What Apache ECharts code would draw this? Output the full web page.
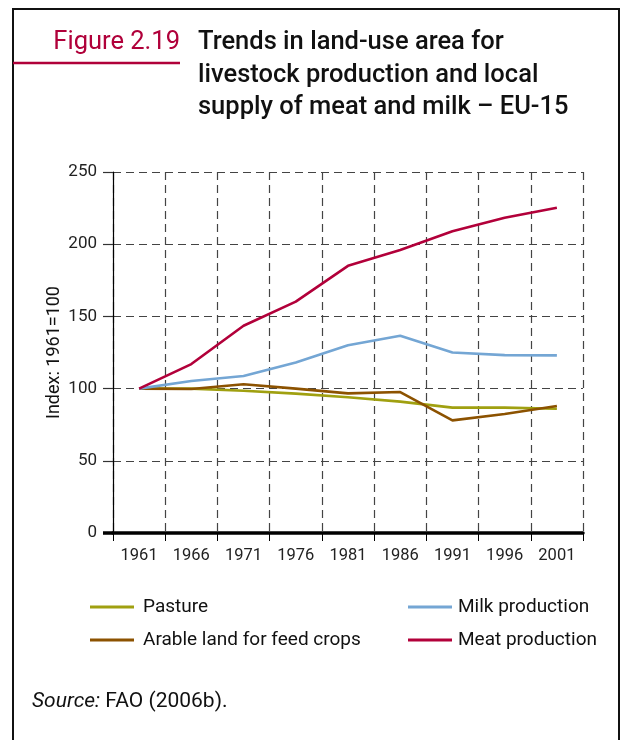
<!DOCTYPE html>
<html>
<head>
<meta charset="utf-8">
<script src="https://cdn.jsdelivr.net/npm/echarts@6/dist/echarts.min.js"></script>
<style>
html,body{margin:0;padding:0;background:#fff;}
#chart{width:622px;height:740px;}
</style>
</head>
<body>
<div id="chart"></div>
<script>
var years = ['1961','1966','1971','1976','1981','1986','1991','1996','2001'];
var pasture = [100, 100, 98.5, 96.5, 94, 91, 86.8, 86.8, 86];
var arable = [100, 99.7, 103, 100, 96.7, 97.6, 78, 82.4, 88];
var milk = [100, 105.3, 108.7, 118, 130, 136.6, 125, 123.2, 123];
var meat = [100, 117, 143.5, 160.2, 185, 196, 209, 218.3, 225.3];
var yTicks = [0, 50, 100, 150, 200, 250];

var FONT = 'Roboto';
var C_PASTURE = '#a0a010';
var C_ARABLE = '#8c5200';
var C_MILK = '#74a6d4';
var C_MEAT = '#b2003a';
var C_RED = '#b0003a';

var chart = echarts.init(document.getElementById('chart'));
var dash = {color: '#444', width: 1.2, type: [8, 5]};

function lineSeries(name, data, color) {
  return {
    name: name, type: 'line', data: data, symbol: 'none',
    lineStyle: {color: color, width: 2.6}, itemStyle: {color: color},
    z: 5
  };
}
function titleText(txt, x, y, color, weight, align) {
  return {type: 'text', x: x, y: y,
    style: {text: txt, fill: color, fontFamily: FONT, fontSize: 25.5, fontWeight: weight,
      textAlign: align, textVerticalAlign: 'middle'}};
}

chart.setOption({
  animation: false,
  textStyle: {fontFamily: FONT},
  grid: {left: 113, right: 39, top: 172, bottom: 207},
  xAxis: {
    type: 'category', data: years, boundaryGap: true,
    axisLine: {show: true, lineStyle: {color: '#000', width: 3.5}},
    axisTick: {show: true, interval: 0, length: 8, lineStyle: {color: '#000', width: 1}},
    axisLabel: {color: '#222', fontSize: 16.5, margin: 14, fontFamily: FONT, interval: 0},
    splitLine: {show: true, interval: 0, lineStyle: dash}
  },
  yAxis: {
    type: 'value', min: 0, max: 250, interval: 50,
    name: 'Index: 1961=100', nameLocation: 'middle', nameGap: 50, nameRotate: 90,
    nameMoveOverlap: false,
    nameTextStyle: {color: '#111', fontSize: 18, fontFamily: FONT},
    axisLine: {show: true, lineStyle: {color: '#000', width: 1.2}},
    axisTick: {show: true, length: 10, lineStyle: {color: '#333', width: 1.2}},
    axisLabel: {color: '#222', fontSize: 17, margin: 16, fontFamily: FONT,
      formatter: function (v) { return yTicks.indexOf(v) >= 0 ? String(v) : ''; }},
    splitLine: {show: true, lineStyle: dash}
  },
  legend: [
    {
      data: ['Pasture', 'Arable land for feed crops'],
      orient: 'vertical', left: 90, top: 595, padding: 0, itemWidth: 44, itemHeight: 3,
      itemGap: 9, icon: 'rect',
      textStyle: {color: '#111', fontSize: 19, fontFamily: FONT, lineHeight: 21, padding: [3, 0, 0, 4]}
    },
    {
      data: ['Milk production', 'Meat production'],
      orient: 'vertical', left: 408, top: 595, padding: 0, itemWidth: 44, itemHeight: 3,
      itemGap: 9, icon: 'rect',
      textStyle: {color: '#111', fontSize: 19, fontFamily: FONT, lineHeight: 21, padding: [3, 0, 0, 1]}
    }
  ],
  series: [
    lineSeries('Pasture', pasture, C_PASTURE),
    lineSeries('Arable land for feed crops', arable, C_ARABLE),
    lineSeries('Milk production', milk, C_MILK),
    lineSeries('Meat production', meat, C_MEAT)
  ],
  graphic: [
    {type: 'rect', shape: {x: 13, y: 9, width: 606, height: 800},
      style: {fill: null, stroke: '#111', lineWidth: 2}, silent: true},
    {type: 'line', shape: {x1: 13, y1: 63, x2: 180, y2: 63},
      style: {stroke: C_RED, lineWidth: 2.5}},
    titleText('Figure 2.19', 180, 43, C_RED, 400, 'right'),
    titleText('Trends in land-use area for', 198, 43, '#111', 500, 'left'),
    titleText('livestock production and local', 198, 76, '#111', 500, 'left'),
    titleText('supply of meat and milk \u2013 EU-15', 198, 108, '#111', 500, 'left'),
    {type: 'text', x: 32, y: 702,
      style: {text: '{i|Source:}{n| FAO (2006b).}', textVerticalAlign: 'middle',
        rich: {
          i: {fontStyle: 'italic', fontSize: 21, fontFamily: FONT, fill: '#111'},
          n: {fontSize: 21, fontFamily: FONT, fill: '#111'}
        }}},
    {type: 'line', shape: {x1: 103, y1: 533, x2: 114, y2: 533},
      style: {stroke: '#000', lineWidth: 3.5}, z: 10}
  ]
});
</script>
</body>
</html>
